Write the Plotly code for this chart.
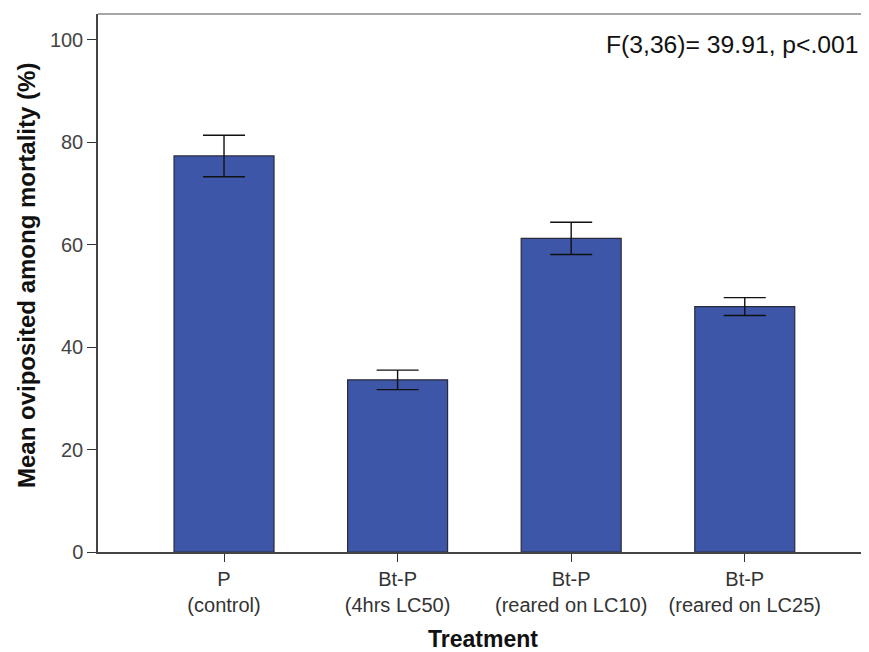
import plotly.graph_objects as go

categories = ["P<br>(control)", "Bt-P<br>(4hrs LC50)", "Bt-P<br>(reared on LC10)", "Bt-P<br>(reared on LC25)"]
means = [77.3, 33.6, 61.2, 47.9]
errors = [4.05, 1.9, 3.15, 1.75]
y_ticks = [0, 20, 40, 60, 80, 100]
annotation_text = "F(3,36)= 39.91, p<.001"
y_title = "<b>Mean oviposited among mortality (%)</b>"

x_pos = list(range(len(categories)))

fig = go.Figure()
fig.add_trace(go.Bar(
    x=x_pos, y=means, width=0.576,
    marker=dict(color="#3d56a8", line=dict(color="#2a2a3a", width=1.2)),
    error_y=dict(type="data", array=errors, visible=True, color="#111111", thickness=1.4, width=21),
    showlegend=False,
))

fig.update_layout(
    width=861, height=644,
    margin=dict(l=90, r=1, t=6, b=100),
    paper_bgcolor="white", plot_bgcolor="white",
    font=dict(family="Liberation Sans, Arial", color="#333333"),
    xaxis=dict(
        range=[-0.726, 3.71], tickvals=x_pos, ticktext=categories,
        ticks="outside", ticklen=8, tickcolor="#333333", tickwidth=1.3,
        showline=True, linecolor="#444444", linewidth=1.5, mirror=False,
        showgrid=False, zeroline=False,
        tickfont=dict(size=20, color="#333333"),
        title=dict(text="<b>Treatment</b>", font=dict(size=23, color="#111111"), standoff=16),
    ),
    yaxis=dict(
        range=[0, 105], tickvals=y_ticks,
        ticks="outside", ticklen=9, tickcolor="#333333", tickwidth=1.3,
        showline=True, linecolor="#444444", linewidth=1.5,
        showgrid=False, zeroline=False,
        tickfont=dict(size=20, color="#444444"),
    ),
    shapes=[
        dict(type="line", xref="paper", yref="paper", x0=0, x1=1, y0=1, y1=1, line=dict(color="#888888", width=1.5)),
        dict(type="line", xref="paper", yref="paper", x0=1, x1=1, y0=0, y1=1, line=dict(color="#cccccc", width=1)),
    ],
    annotations=[
        dict(
            text=annotation_text, xref="paper", yref="paper", x=0.991, y=0.944,
            xanchor="right", yanchor="middle", showarrow=False,
            font=dict(size=24.7, color="#111111"),
        ),
        dict(
            text=y_title, xref="paper", yref="paper", x=-0.0935, y=0.513,
            xanchor="center", yanchor="middle", showarrow=False, textangle=-90,
            font=dict(size=24, color="#111111"),
        ),
    ],
)

fig.write_html("out.html")
